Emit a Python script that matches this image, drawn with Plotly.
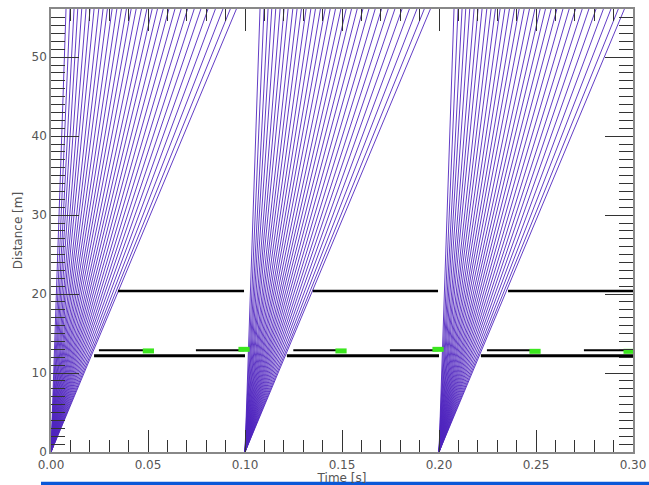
import plotly.graph_objects as go

# ---- data ----
source_times = [0.0, 0.1, 0.2]                      # s, origin of each fan
fan_speeds = [7245, 5720, 4722, 4070, 3540, 3104, 2786, 2527, 2277, 2090,
              1930, 1781, 1653, 1545, 1443, 1358, 1278, 1203, 1135, 1076,
              1022, 970, 923, 878, 836, 797, 760, 726, 693, 662, 633, 607, 587]  # m/s
fan_max_distance = 60.0

upper_level = 20.4
upper_start = [0.0345, 0.1349, 0.2356]
upper_end = [0.0995, 0.1995, 0.3000]

lower_level = 12.2
lower_start = [0.0222, 0.1216, 0.2216]
lower_end = [0.1000, 0.2000, 0.3000]

mid_level = 12.9
mid_start = [0.0247, 0.0747, 0.1249, 0.1747, 0.2247, 0.2747]
mid_end = [0.0502, 0.0995, 0.1495, 0.1995, 0.2495, 0.3000]

green_times = [0.0502, 0.0995, 0.1495, 0.1995, 0.2495, 0.2980]
green_levels = [12.8, 13.0, 12.8, 13.0, 12.75, 12.75]

x_ticks = [0.0, 0.05, 0.10, 0.15, 0.20, 0.25, 0.30]
y_ticks = [0, 10, 20, 30, 40, 50]

fig = go.Figure()

# fan of rays
fx, fy = [], []
for t0 in source_times:
    for v in fan_speeds:
        fx += [t0, t0 + fan_max_distance / v, None]
        fy += [0, fan_max_distance, None]
fig.add_trace(go.Scatter(x=fx, y=fy, mode="lines",
                         line=dict(color="rgb(80,38,190)", width=0.9),
                         hoverinfo="skip", showlegend=False))

def segs(starts, ends, level):
    xs, ys = [], []
    for a, b in zip(starts, ends):
        xs += [a, b, None]
        ys += [level, level, None]
    return xs, ys

x1, y1 = segs(upper_start, upper_end, upper_level)
fig.add_trace(go.Scatter(x=x1, y=y1, mode="lines", line=dict(color="black", width=2.5),
                         showlegend=False, hoverinfo="skip"))
x2, y2 = segs(lower_start, lower_end, lower_level)
fig.add_trace(go.Scatter(x=x2, y=y2, mode="lines", line=dict(color="black", width=3),
                         showlegend=False, hoverinfo="skip"))
x3, y3 = segs(mid_start, mid_end, mid_level)
fig.add_trace(go.Scatter(x=x3, y=y3, mode="lines", line=dict(color="black", width=2),
                         showlegend=False, hoverinfo="skip"))

fig.add_trace(go.Scatter(x=green_times, y=green_levels, mode="markers",
                         marker=dict(symbol="line-ew", size=8,
                                     line=dict(color="#3be61e", width=5)),
                         showlegend=False, hoverinfo="skip"))

axis_font = dict(family="DejaVu Sans", size=12, color="#555555")
fig.update_xaxes(range=[0, 0.30], tickvals=x_ticks, tickformat=".2f",
                 ticks="inside", ticklen=22, tickwidth=1, tickcolor="#333333",
                 minor=dict(dtick=0.01, ticks="inside", ticklen=12, tickcolor="#333333", tickwidth=1),
                 showline=True, linecolor="#888888", linewidth=1.5, mirror="ticks",
                 showgrid=False, zeroline=False, tickfont=axis_font, automargin=False,
                 ticklabelstandoff=1, ticklabeloverflow="allow",
                 title=dict(text="Time [s]", font=axis_font, standoff=0))
fig.update_yaxes(range=[0, 56.1], tickvals=y_ticks,
                 ticks="inside", ticklen=28, tickwidth=1, tickcolor="#333333",
                 minor=dict(dtick=1, ticks="inside", ticklen=14, tickcolor="#333333", tickwidth=1),
                 showline=True, linecolor="#888888", linewidth=1.5, mirror="ticks",
                 showgrid=False, zeroline=False, tickfont=axis_font, automargin=False,
                 title=dict(text="Distance [m]", font=axis_font, standoff=6))

fig.add_shape(type="rect", xref="paper", yref="paper",
              x0=-0.0172, x1=1.05, y0=-0.0745, y1=-0.067,
              fillcolor="#0a58d8", line=dict(width=0), layer="above")

fig.update_layout(width=649, height=485,
                  margin=dict(l=51, r=16, t=9, b=33),
                  paper_bgcolor="white", plot_bgcolor="white",
                  font=axis_font)

fig.write_html("out.html", config={"displayModeBar": False},
               post_script="document.body.style.margin='0';document.body.style.overflow='hidden';")
